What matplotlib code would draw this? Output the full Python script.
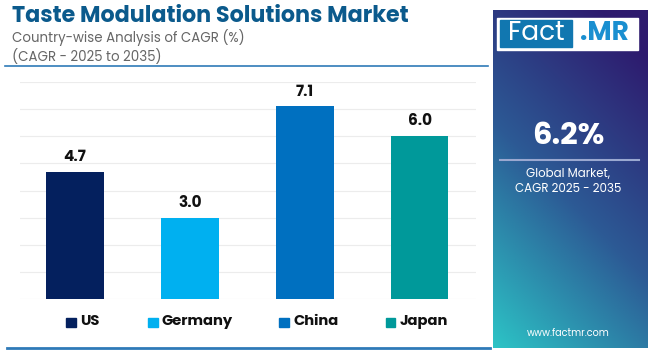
import matplotlib.pyplot as plt
import numpy as np
from matplotlib.patches import Rectangle

countries = ["US", "Germany", "China", "Japan"]
cagr = [4.7, 3.0, 7.1, 6.0]
colors = ["#04205e", "#00b0f0", "#0070c0", "#00999a"]
global_cagr = "6.2%"

TITLE = "Taste Modulation Solutions Market"
SUB1 = "Country-wise Analysis of CAGR (%)"
SUB2 = "(CAGR - 2025 to 2035)"

plt.rcParams["font.family"] = ["Poppins", "Lato", "DejaVu Sans"]

fig = plt.figure(figsize=(6.5, 3.5), dpi=100)
fig.patch.set_facecolor("white")

# header
fig.text(12 / 650, 1 - 17 / 350, TITLE, fontsize=16, fontweight="bold",
         color="#0b5a8c", va="center", ha="left")
fig.text(12 / 650, 1 - 38 / 350, SUB1, fontsize=9.6, color="#666666",
         va="center", ha="left")
fig.text(12 / 650, 1 - 57 / 350, SUB2, fontsize=9.6, color="#666666",
         va="center", ha="left")
fig.add_artist(plt.Line2D([5 / 650, 488 / 650], [1 - 66 / 350] * 2,
                          color="#2f7ab8", lw=1.2))
fig.add_artist(plt.Line2D([7 / 650, 490 / 650], [1 - 348 / 350] * 2,
                          color="#2f7ab8", lw=2))

# bars
ax = fig.add_axes([20 / 650, 1 - 299 / 350, 456 / 650, 217 / 350])
x = np.arange(len(countries))
ax.bar(x, cagr, width=0.5, color=colors, zorder=3)
for xi, v in zip(x, cagr):
    ax.text(xi, v + 0.25, f"{v:.1f}", ha="center", va="bottom",
            fontsize=11, fontweight="bold", color="#111111")
ax.set_xlim(-0.48, 3.49)
ax.set_ylim(0, 8)
ax.set_yticks(np.arange(0, 9, 1))
ax.grid(axis="y", color="#ececec", lw=0.8, zorder=0)
ax.tick_params(left=False, bottom=False, labelleft=False, labelbottom=False)
for s in ax.spines.values():
    s.set_visible(False)

# legend
leg_sq = [66, 148, 279, 386]
for px, name, c in zip(leg_sq, countries, colors):
    fig.add_artist(Rectangle((px / 650, 1 - 327 / 350), 9.5 / 650, 9.5 / 350,
                             color=c, transform=fig.transFigure))
    fig.text((px + 14) / 650, 1 - 322 / 350, name, fontsize=10.6,
             fontweight="bold", color="#111111", va="center", ha="left")

# right panel with gradient
pax = fig.add_axes([493 / 650, 1 - 348 / 350, 154 / 650, 338 / 350])
ny, nx = 200, 100
yy, xx = np.mgrid[0:1:ny * 1j, 0:1:nx * 1j]
t = np.clip(0.75 * yy + 0.35 * (1 - xx) - 0.1, 0, 1)
c_top = np.array([0x2e, 0x1a, 0x6e]) / 255
c_mid = np.array([0x2c, 0x5a, 0x95]) / 255
c_bot = np.array([0x2c, 0xc4, 0xc6]) / 255
t3 = t[..., None]
img = np.where(t3 < 0.5, c_top + (c_mid - c_top) * (t3 / 0.5),
               c_mid + (c_bot - c_mid) * ((t3 - 0.5) / 0.5))
pax.imshow(img, extent=[0, 1, 0, 1], aspect="auto", origin="upper")
pax.set_xlim(0, 1)
pax.set_ylim(0, 1)
pax.axis("off")

# logo
fig.add_artist(Rectangle((497 / 650, 1 - 50 / 350), 141 / 650, 32 / 350,
                         color="white", transform=fig.transFigure))
fig.add_artist(Rectangle((500 / 650, 1 - 47 / 350), 72 / 650, 26.5 / 350,
                         color="#1177b0", transform=fig.transFigure))
fig.text(536 / 650, 1 - 34 / 350, "Fact", fontsize=19, color="white",
         ha="center", va="center")
fig.text(604 / 650, 1 - 34 / 350, ".MR", fontsize=19, color="#1a8fd0",
         fontweight="bold", ha="center", va="center")

fig.text(568 / 650, 1 - 137 / 350, global_cagr, fontsize=22, fontweight="bold",
         color="white", ha="center", va="center")
fig.add_artist(plt.Line2D([500 / 650, 639 / 650], [1 - 160 / 350] * 2,
                          color="#9aa8d0", lw=1.5))
fig.text(568 / 650, 1 - 174 / 350, "Global Market,", fontsize=8.5,
         color="white", ha="center", va="center")
fig.text(568 / 650, 1 - 189 / 350, "CAGR 2025 - 2035", fontsize=8.5,
         color="white", ha="center", va="center")
fig.text(568 / 650, 1 - 333 / 350, "www.factmr.com", fontsize=7,
         color="white", ha="center", va="center")

fig.savefig("out.png", dpi=100)
